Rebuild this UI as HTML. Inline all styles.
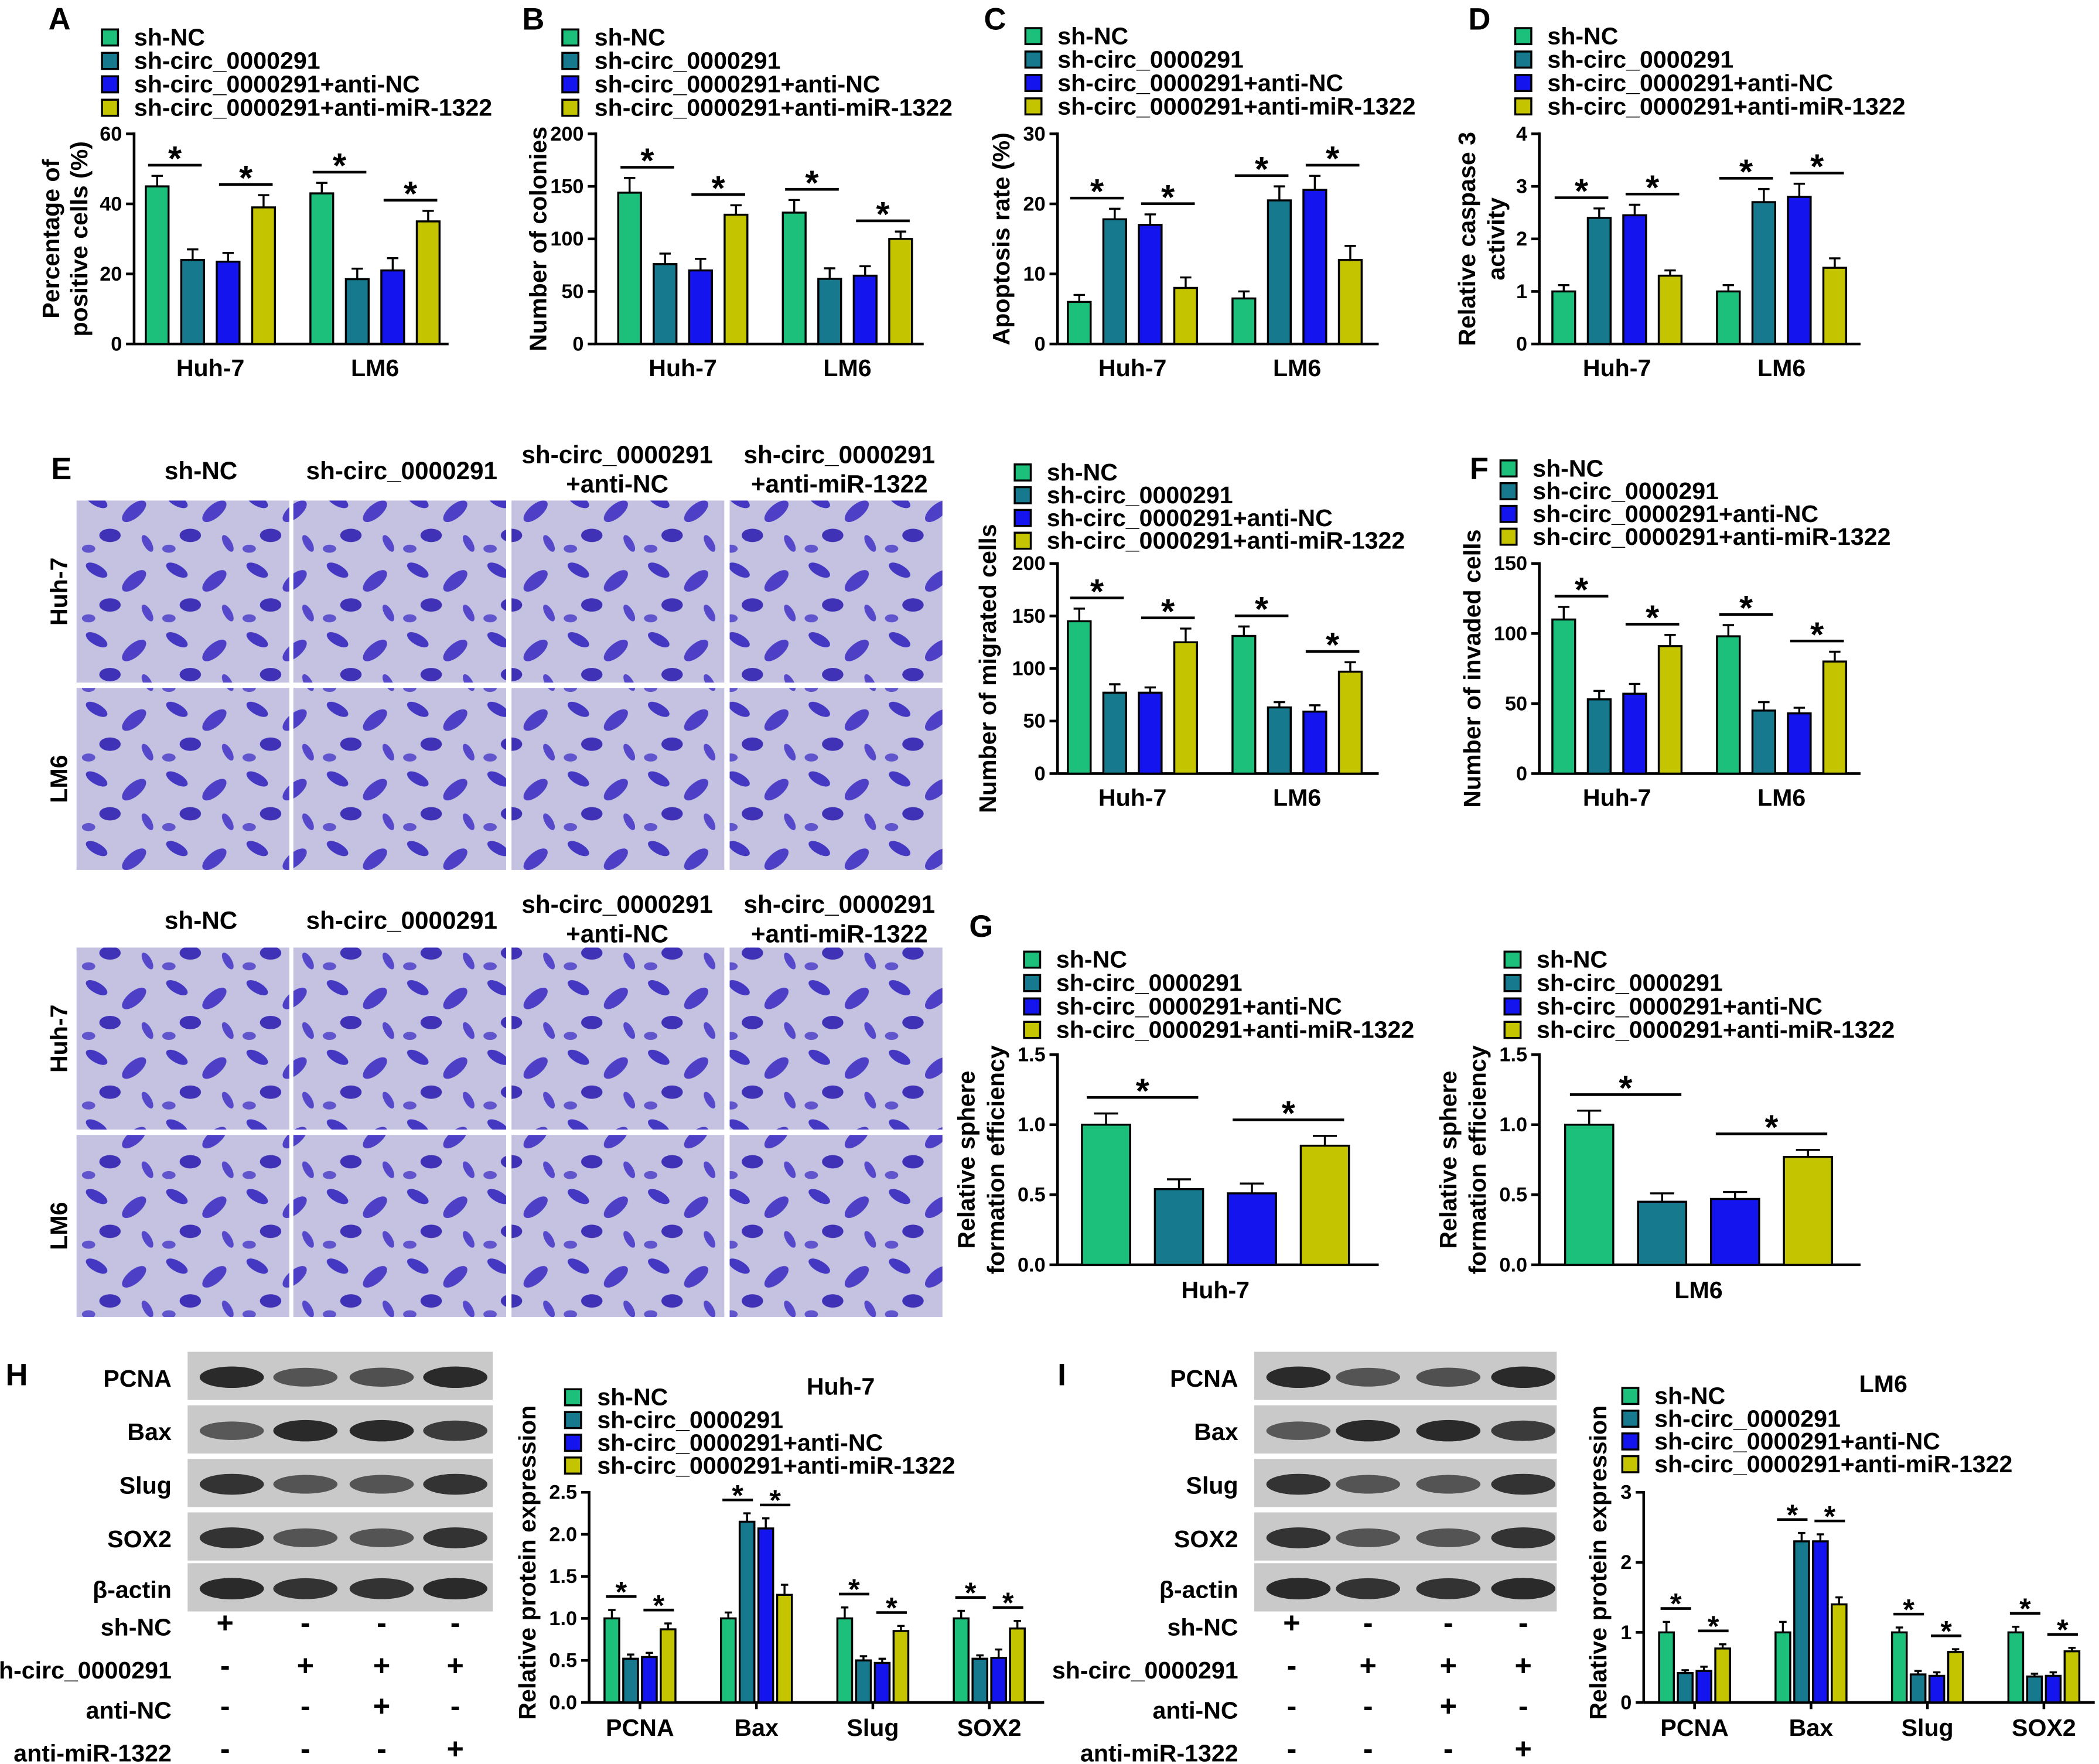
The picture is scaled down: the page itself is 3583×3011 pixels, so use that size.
<!DOCTYPE html>
<html><head><meta charset="utf-8">
<style>
html,body{margin:0;padding:0;background:#fff;}
svg{display:block;}
text{font-family:"Liberation Sans",Arial,sans-serif;font-weight:bold;fill:#000;}
</style></head>
<body>
<svg id="fig" xmlns="http://www.w3.org/2000/svg" width="3583" height="3011" viewBox="0 0 1568 1318">
<defs>
<pattern id="cells" width="60" height="52" patternUnits="userSpaceOnUse">
<rect width="60" height="52" fill="#c4c2e0"/>
<ellipse cx="12" cy="10" rx="9" ry="4" fill="#4438c2" transform="rotate(30 12 10)"/>
<ellipse cx="40" cy="18" rx="11" ry="5" fill="#4e40c6" transform="rotate(-40 40 18)"/>
<ellipse cx="22" cy="36" rx="8" ry="5" fill="#3f32b6"/>
<ellipse cx="50" cy="42" rx="7" ry="3" fill="#5548ca" transform="rotate(60 50 42)"/>
<ellipse cx="6" cy="46" rx="5" ry="3" fill="#6055cc"/>
</pattern>
</defs>
</svg>
<script>
const NS="http://www.w3.org/2000/svg";
const svg=document.getElementById('fig');
const COLORS=["#1cc07a","#17798e","#1414ee","#c4c400"];
const LEG=["sh-NC","sh-circ_0000291","sh-circ_0000291+anti-NC","sh-circ_0000291+anti-miR-1322"];

// ---- data ----
const valsA=[[45,24,23.5,39],[43,18.5,21,35]];
const errA=[[3,3,2.5,3.5],[3,3,3.5,3]];
const valsB=[[144,76,70,123],[125,62,65,100]];
const errB=[[14,10,11,9],[12,10,9,7]];
const valsC=[[6,17.8,17,8],[6.5,20.5,22,12]];
const errC=[[1,1.5,1.5,1.5],[1,2,2,2]];
const valsD=[[1,2.4,2.45,1.3],[1,2.7,2.8,1.45]];
const errD=[[0.12,0.18,0.2,0.1],[0.12,0.25,0.25,0.18]];
const valsE=[[145,77,77,125],[131,63,59,97]];
const errE=[[12,8,5,13],[9,5,6,9]];
const valsF=[[110,53,57,91],[98,45,43,80]];
const errF=[[9,6,7,8],[8,6,4,7]];
const valsG1=[[1.0,0.54,0.51,0.85]];
const errG1=[[0.08,0.07,0.07,0.07]];
const valsG2=[[1.0,0.45,0.47,0.77]];
const errG2=[[0.1,0.06,0.05,0.05]];
const valsH=[[1,0.52,0.54,0.87],[1,2.15,2.07,1.28],[1,0.5,0.47,0.85],[1,0.52,0.53,0.88]];
const errH=[[0.1,0.05,0.05,0.07],[0.07,0.1,0.12,0.12],[0.13,0.05,0.05,0.06],[0.09,0.04,0.1,0.09]];
const valsI=[[1,0.42,0.45,0.77],[1,2.3,2.3,1.4],[1,0.4,0.38,0.72],[1,0.37,0.38,0.73]];
const errI=[[0.15,0.04,0.06,0.06],[0.15,0.12,0.1,0.1],[0.07,0.05,0.05,0.04],[0.08,0.04,0.05,0.05]];
const groups2=["Huh-7","LM6"];
const groupsP=["PCNA","Bax","Slug","SOX2"];

function el(tag,attrs,parent){const e=document.createElementNS(NS,tag);for(const k in attrs)e.setAttribute(k,attrs[k]);(parent||svg).appendChild(e);return e;}
function txt(x,y,s,size,anchor,parent,rot){const t=el('text',{x:x,y:y,'font-size':size,'text-anchor':anchor||'start'},parent);if(rot)t.setAttribute('transform','rotate(-90 '+x+' '+y+')');t.textContent=s;return t;}

function legend(x,y,step,g,size){
  for(let i=0;i<4;i++){
    const r=el('rect',{x:x,y:y+i*step-11,width:12,height:12,fill:COLORS[i],stroke:'#000','stroke-width':1.5},g);
    
    
    const t=txt(x+24,y+i*step+1,LEG[i],size||18,'start',g);
    
    
  }
}

function chart(c){
  const g=el('g',{});
  
  
  const ys=v=>c.y0-(v/c.max)*(c.y0-c.yTop);
  el('line',{x1:c.ax,y1:c.yTop-1,x2:c.ax,y2:c.y0,stroke:'#000','stroke-width':2},g);
  el('line',{x1:c.ax,y1:c.y0,x2:c.xEnd,y2:c.y0,stroke:'#000','stroke-width':2},g);
  c.ticks.forEach(t=>{
    const y=ys(t);
    el('line',{x1:c.ax-6,y1:y,x2:c.ax,y2:y,stroke:'#000','stroke-width':2},g);
    const tl=txt(c.ax-9,y+5,c.tickFmt?c.tickFmt(t):String(t),c.tickSize||15,'end',g);
    
    
  });
  c.vals.forEach((gv,gi)=>{
    const cx=c.gx[gi];
    gv.forEach((v,bi)=>{
      const bx=cx+(bi-1.5)*c.pitch;
      const top=ys(v), etop=ys(v+c.errs[gi][bi]);
      el('line',{x1:bx,y1:etop,x2:bx,y2:top,stroke:'#000','stroke-width':1.5},g);
      el('line',{x1:bx-c.bw*0.25,y1:etop,x2:bx+c.bw*0.25,y2:etop,stroke:'#000','stroke-width':1.5},g);
      const r=el('rect',{x:bx-c.bw/2,y:top,width:c.bw,height:c.y0-top,fill:COLORS[bi],stroke:'#000','stroke-width':1.5},g);
      
      
    });
    [[0,1],[2,3]].forEach(p=>{
      const a=cx+(p[0]-1.5)*c.pitch-c.bw*0.4, b=cx+(p[1]-1.5)*c.pitch+c.bw*0.4;
      const m=Math.max(gv[p[0]]+c.errs[gi][p[0]],gv[p[1]]+c.errs[gi][p[1]]);
      const y=ys(m)-c.sigGap;
      el('line',{x1:a,y1:y,x2:b,y2:y,stroke:'#000','stroke-width':2},g);
      const s=txt((a+b)/2,y+4,'*',c.starSize||26,'middle',g);
      
      
    });
    if(c.xTickMarks) el('line',{x1:cx,y1:c.y0,x2:cx,y2:c.y0+5,stroke:'#000','stroke-width':2},g);
    const gl=txt(cx,c.y0+c.labelDy,c.labels[gi],c.labelSize||18,'middle',g);
    
    
  });
  c.yTitle.forEach((line,i)=>{
    const t=txt(c.titleX+i*c.titleStep,(c.y0+c.yTop)/2+c.titleDy,line,c.titleSize||18,'middle',g,true);
    
    
  });
  return g;
}
function letter(x,y,s){const t=txt(x,y,s,23,'start');}

letter(36,22,'A');letter(390,22,'B');letter(735,22,'C');letter(1097,22,'D');
legend(76,33,17.5,svg);legend(420,33,17.5,svg);legend(766,32,17.5,svg);legend(1132,32,17.5,svg);
chart({name:'chart-a',ax:100,y0:257,yTop:100,max:60,ticks:[0,20,40,60],vals:valsA,errs:errA,gx:[157,280],pitch:26.5,bw:17,xEnd:335,sigGap:8,labels:groups2,labelDy:24,yTitle:['Percentage of','positive cells (%)'],titleX:44,titleStep:21,titleDy:0});
chart({name:'chart-b',ax:445,y0:257,yTop:100,max:200,ticks:[0,50,100,150,200],vals:valsB,errs:errB,gx:[510,633],pitch:26.5,bw:17,xEnd:690,sigGap:8,labels:groups2,labelDy:24,yTitle:['Number of colonies'],titleX:408,titleStep:20,titleDy:0});
chart({name:'chart-c',ax:790,y0:257,yTop:100,max:30,ticks:[0,10,20,30],vals:valsC,errs:errC,gx:[846,969],pitch:26.5,bw:17,xEnd:1030,sigGap:8,labels:groups2,labelDy:24,yTitle:['Apoptosis rate (%)'],titleX:754,titleStep:20,titleDy:0});
chart({name:'chart-d',ax:1150,y0:257,yTop:100,max:4,ticks:[0,1,2,3,4],vals:valsD,errs:errD,gx:[1208,1331],pitch:26.5,bw:17,xEnd:1390,sigGap:8,labels:groups2,labelDy:24,yTitle:['Relative caspase 3','activity'],titleX:1102,titleStep:22,titleDy:0});

letter(38,358,'E');
const colX=[57,219,382,545], colW=[159,159,159,159];
function micro(yHead1,yHead2,yRows,tag){
  const heads=[['sh-NC'],['sh-circ_0000291'],['sh-circ_0000291','+anti-NC'],['sh-circ_0000291','+anti-miR-1322']];
  const hx=[150,300,461,627];
  heads.forEach((h,i)=>{
    const cx=hx[i];
    if(h.length===1){const t=txt(cx,yHead2-10,h[0],18.5,'middle');}
    else{const t=txt(cx,yHead1,h[0],18.5,'middle');
      const t2=txt(cx,yHead2,h[1],18.5,'middle');}
  });
  ['Huh-7','LM6'].forEach((r,ri)=>{
    const y=yRows[ri];
    const t=txt(50,y+68,r,18,'middle',svg,true);
    
    
    colX.forEach((x,ci)=>{
      const im=el('rect',{x:x,y:y,width:colW[ci],height:136,fill:'url(#cells)'});
      
      
    });
  });
}
micro(346,368,[374,514],'migration');
micro(682,704,[708,848],'invasion');

legend(758,358,17,svg);legend(1121,355,17,svg);
letter(1098,358,'F');
chart({name:'chart-e-migration',ax:790,y0:578,yTop:421,max:200,ticks:[0,50,100,150,200],vals:valsE,errs:errE,gx:[846,969],pitch:26.5,bw:17,xEnd:1030,sigGap:8,labels:groups2,labelDy:24,yTitle:['Number of migrated cells'],titleX:744,titleStep:20,titleDy:0});
chart({name:'chart-f-invasion',ax:1150,y0:578,yTop:421,max:150,ticks:[0,50,100,150],vals:valsF,errs:errF,gx:[1208,1331],pitch:26.5,bw:17,xEnd:1390,sigGap:8,labels:groups2,labelDy:24,yTitle:['Number of invaded cells'],titleX:1106,titleStep:20,titleDy:0});

letter(724,700,'G');
legend(765,722,17.5,svg);legend(1124,722,17.5,svg);
const f1=t=>t.toFixed(1);
chart({name:'chart-g-huh7',ax:790,y0:945,yTop:788,max:1.5,ticks:[0,0.5,1.0,1.5],tickFmt:f1,vals:valsG1,errs:errG1,gx:[908],pitch:54.5,bw:36,xEnd:1030,sigGap:12,labels:['Huh-7'],labelDy:25,yTitle:['Relative sphere','formation efficiency'],titleX:728,titleStep:22,titleDy:0});
chart({name:'chart-g-lm6',ax:1150,y0:945,yTop:788,max:1.5,ticks:[0,0.5,1.0,1.5],tickFmt:f1,vals:valsG2,errs:errG2,gx:[1269],pitch:54.5,bw:36,xEnd:1390,sigGap:12,labels:['LM6'],labelDy:25,yTitle:['Relative sphere','formation efficiency'],titleX:1088,titleStep:22,titleDy:0});

letter(4,1035,'H');letter(790,1035,'I');
function blots(x0,w,labX,lanes,inten,tag){
  const rows=['PCNA','Bax','Slug','SOX2','β-actin'];
  const rowY=[1010,1050,1090,1130,1168];
  rows.forEach((r,ri)=>{
    const y=rowY[ri];
    const bg=el('rect',{x:x0,y:y,width:w,height:36,fill:'#c9c9c9'});
    
    
    lanes.forEach((lx,li)=>{
      const a=inten[ri][li];
      el('ellipse',{cx:lx,cy:y+19,rx:24,ry:6+a*2,fill:'#222','fill-opacity':0.45+a*0.5});
    });
    const t=txt(labX,y+26,r,18,'end');
    
    
  });
  const cond=['sh-NC','sh-circ_0000291','anti-NC','anti-miR-1322'];
  const signs=[['+','-','-','-'],['-','+','+','+'],['-','-','+','-'],['-','-','-','+']];
  const cy=[1222,1254,1284,1316];
  cond.forEach((c,ci)=>{
    const t=txt(labX,cy[ci],c,18,'end');
    
    
    signs[ci].forEach((s,si)=>{const st=txt(lanes[si]-(si===0?5:0),cy[ci]-2,s,22,'middle');});
  });
}
const intH=[[1,.5,.55,1],[.45,1,1,.8],[.9,.5,.5,.9],[.9,.5,.5,.9],[1,.9,.9,1]];
blots(140,228,128,[173,228,285,340],intH,'huh7');
blots(937,226,925,[970,1022,1082,1138],intH,'lm6');

legend(422,1049,17,svg,18);legend(1212,1048,17,svg,18);
const tH=txt(628,1042,'Huh-7',18,'middle');
const tI=txt(1407,1040,'LM6',18,'middle');
chart({name:'chart-h-protein',ax:440,y0:1272,yTop:1115,max:2.5,ticks:[0,0.5,1.0,1.5,2.0,2.5],tickFmt:f1,vals:valsH,errs:errH,gx:[478,565,652,739],pitch:14,bw:11,xEnd:780,sigGap:10,starSize:22,xTickMarks:true,labels:groupsP,labelDy:25,labelSize:18,yTitle:['Relative protein expression'],titleX:400,titleStep:20,titleDy:-26,tickSize:15});
chart({name:'chart-i-protein',ax:1228,y0:1272,yTop:1115,max:3,ticks:[0,1,2,3],vals:valsI,errs:errI,gx:[1266,1353,1440,1527],pitch:14,bw:11,xEnd:1565,sigGap:10,starSize:22,xTickMarks:true,labels:groupsP,labelDy:25,labelSize:18,yTitle:['Relative protein expression'],titleX:1200,titleStep:20,titleDy:-26,tickSize:15});
</script>
</body></html>
